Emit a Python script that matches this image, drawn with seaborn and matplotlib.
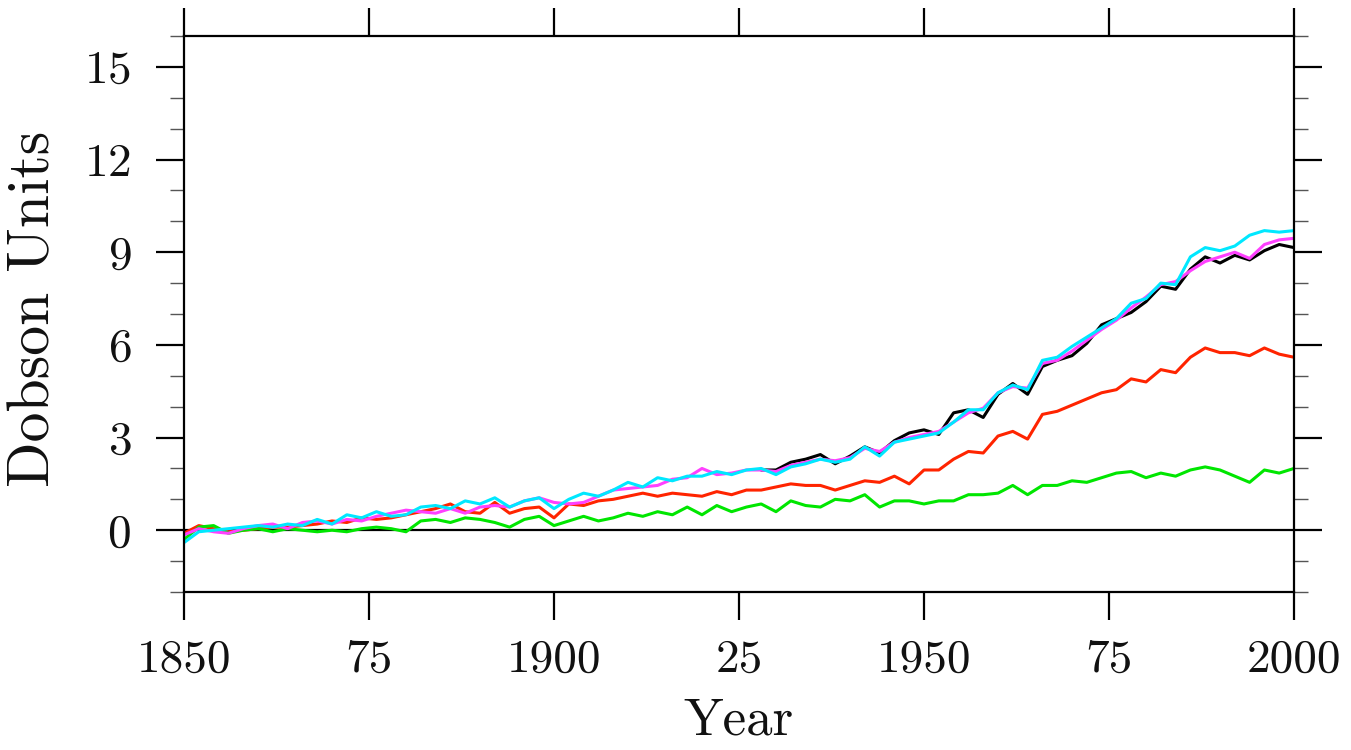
import numpy as np
import pandas as pd
import matplotlib
matplotlib.use('Agg')
import matplotlib.pyplot as plt
import seaborn as sns


# ── Data (every 2 years) ────────────────────────────────────────────────────

years = list(range(1850, 2001, 2))

magenta = [-0.15, 0.05, -0.05, -0.10, 0.05, 0.15, 0.20, 0.05, 0.25, 0.30,
           0.20, 0.35, 0.30, 0.45, 0.55, 0.65, 0.60, 0.55, 0.70, 0.55,
           0.75, 0.80, 0.75, 0.95, 1.05, 0.90, 0.85, 0.90, 1.10, 1.30,
           1.35, 1.40, 1.45, 1.65, 1.70, 2.00, 1.80, 1.85, 1.95, 1.95,
           1.90, 2.10, 2.20, 2.30, 2.25, 2.35, 2.65, 2.55, 2.85, 3.00,
           3.10, 3.20, 3.50, 3.80, 3.95, 4.45, 4.65, 4.60, 5.40, 5.50,
           5.80, 6.15, 6.50, 6.80, 7.20, 7.55, 7.95, 8.05, 8.40, 8.70,
           8.85, 9.00, 8.80, 9.25, 9.40, 9.45]

cyan = [-0.40, -0.05, 0.00, 0.05, 0.10, 0.15, 0.10, 0.20, 0.15, 0.35,
        0.20, 0.50, 0.40, 0.60, 0.45, 0.50, 0.75, 0.80, 0.70, 0.95,
        0.85, 1.05, 0.75, 0.95, 1.05, 0.70, 1.00, 1.20, 1.10, 1.30,
        1.55, 1.40, 1.70, 1.60, 1.75, 1.75, 1.90, 1.80, 1.95, 2.00,
        1.80, 2.05, 2.15, 2.30, 2.20, 2.30, 2.70, 2.40, 2.85, 2.95,
        3.05, 3.15, 3.50, 3.90, 3.90, 4.45, 4.70, 4.55, 5.50, 5.60,
        5.95, 6.25, 6.55, 6.85, 7.35, 7.50, 8.00, 7.95, 8.85, 9.15,
        9.05, 9.20, 9.55, 9.70, 9.65, 9.70]

# black only separates from magenta after ~1928
black = [np.nan] * 39 + [
         1.95, 1.95, 2.20, 2.30, 2.45, 2.15, 2.40, 2.70, 2.50, 2.90,
         3.15, 3.25, 3.10, 3.80, 3.90, 3.65, 4.40, 4.75, 4.40, 5.30,
         5.50, 5.65, 6.05, 6.65, 6.85, 7.05, 7.40, 7.90, 7.80, 8.45,
         8.85, 8.65, 8.90, 8.75, 9.05, 9.25, 9.15]

red = [-0.10, 0.15, 0.05, -0.05, 0.00, 0.05, 0.10, 0.10, 0.15, 0.20,
       0.30, 0.25, 0.40, 0.35, 0.40, 0.50, 0.60, 0.70, 0.85, 0.60,
       0.55, 0.90, 0.55, 0.70, 0.75, 0.40, 0.85, 0.80, 0.95, 1.00,
       1.10, 1.20, 1.10, 1.20, 1.15, 1.10, 1.25, 1.15, 1.30, 1.30,
       1.40, 1.50, 1.45, 1.45, 1.30, 1.45, 1.60, 1.55, 1.75, 1.50,
       1.95, 1.95, 2.30, 2.55, 2.50, 3.05, 3.20, 2.95, 3.75, 3.85,
       4.05, 4.25, 4.45, 4.55, 4.90, 4.80, 5.20, 5.10, 5.60, 5.90,
       5.75, 5.75, 5.65, 5.90, 5.70, 5.60]

green = [-0.30, 0.10, 0.15, -0.10, 0.00, 0.05, -0.05, 0.05, 0.00, -0.05,
         0.00, -0.05, 0.05, 0.10, 0.05, -0.05, 0.30, 0.35, 0.25, 0.40,
         0.35, 0.25, 0.10, 0.35, 0.45, 0.15, 0.30, 0.45, 0.30, 0.40,
         0.55, 0.45, 0.60, 0.50, 0.75, 0.50, 0.80, 0.60, 0.75, 0.85,
         0.60, 0.95, 0.80, 0.75, 1.00, 0.95, 1.15, 0.75, 0.95, 0.95,
         0.85, 0.95, 0.95, 1.15, 1.15, 1.20, 1.45, 1.15, 1.45, 1.45,
         1.60, 1.55, 1.70, 1.85, 1.90, 1.70, 1.85, 1.75, 1.95, 2.05,
         1.95, 1.75, 1.55, 1.95, 1.85, 2.00]

series = {'black': black, 'red': red, 'green': green,
          'magenta': magenta, 'cyan': cyan}
colors = {'black': '#000000', 'red': '#ff2400', 'green': '#00e600',
          'magenta': '#ff40ff', 'cyan': '#00e8ff'}

df = pd.concat(
    [pd.DataFrame({'year': years, 'du': vals, 'run': name})
     for name, vals in series.items()],
    ignore_index=True,
).dropna()


# ── Plot ─────────────────────────────────────────────────────────────────────

sns.set_style('ticks')
plt.rcParams['font.family'] = ['cmr10', 'DejaVu Serif']
plt.rcParams['axes.unicode_minus'] = False
plt.rcParams['axes.formatter.use_mathtext'] = True

fig = plt.figure(figsize=(13.51, 7.5), dpi=100)
ax = fig.add_axes([184 / 1351, 1 - 592 / 750, 1110 / 1351, 556 / 750])

ax.axhline(0, color='black', lw=1.6, zorder=1)

sns.lineplot(data=df, x='year', y='du', hue='run',
             hue_order=list(series.keys()), palette=colors,
             estimator=None, lw=2.2, legend=False, ax=ax)

ax.set_xlim(1850, 2000)
ax.set_ylim(-2, 16)

ax.set_xticks(range(1850, 2001, 25))
ax.set_xticklabels(['1850', '75', '1900', '25', '1950', '75', '2000'])
ax.set_yticks(range(0, 16, 3))
ax.set_yticks(range(-2, 17), minor=True)

for s in ax.spines.values():
    s.set_linewidth(1.6)
    s.set_color('black')

ax.tick_params(axis='both', which='major', direction='out', length=20,
               width=1.6, labelsize=34, color='black', labelcolor='#111111')
ax.tick_params(axis='y', which='major', left=True, right=True, pad=18)
ax.tick_params(axis='y', which='minor', left=True, right=True,
               direction='out', length=10, width=1.0, color='#555555')
ax.tick_params(axis='x', which='major', top=True, bottom=True, pad=14)
ax.tick_params(axis='x', which='minor', bottom=False, top=False)

ax.set_xlabel('Year', fontsize=38, va='center', color='#111111')
ax.set_ylabel('Dobson Units', fontsize=43, va='center', color='#111111')
ax.xaxis.set_label_coords(0.5, -0.232)
ax.yaxis.set_label_coords(-0.135, 0.51)

fig.savefig('out.png', dpi=100)
plt.close(fig)
